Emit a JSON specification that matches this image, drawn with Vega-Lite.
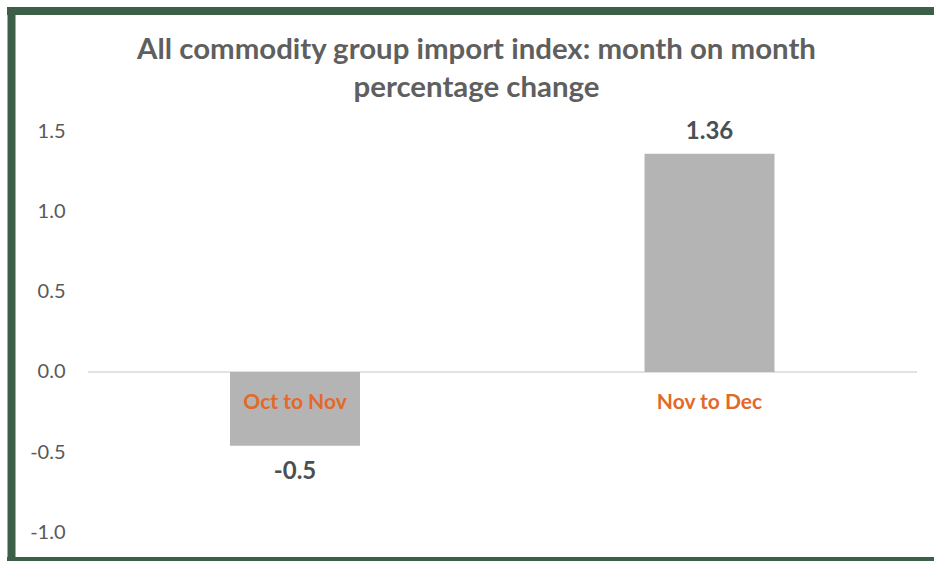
{
  "$schema": "https://vega.github.io/schema/vega-lite/v6.json",
  "autosize": "none",
  "width": 923,
  "height": 550,
  "padding": {"left": 11, "top": 11, "right": 0, "bottom": 0},
  "background": "#ffffff",
  "config": {
    "view": {"stroke": null, "fill": "#ffffff"},
    "font": "Lato"
  },
  "title": {
    "text": ["All commodity group import index: month on month", "percentage change"],
    "font": "Lato",
    "fontSize": 29.4,
    "fontWeight": "bold",
    "color": "#5f5f5f",
    "anchor": "middle",
    "lineHeight": 38,
    "baseline": "top",
    "offset": -98,
    "dx": 4
  },
  "data": {
    "values": [
      {"period": "Oct to Nov", "change": -0.46, "label": "-0.5"},
      {"period": "Nov to Dec", "change": 1.36, "label": "1.36"}
    ]
  },
  "encoding": {
    "x": {
      "field": "period",
      "type": "nominal",
      "sort": null,
      "axis": null,
      "scale": {"paddingInner": 0.6864, "paddingOuter": 0.4566, "align": 0.5786}
    },
    "y": {
      "field": "change",
      "type": "quantitative",
      "scale": {"domain": [-1.1783, 2.2506], "nice": false, "zero": false},
      "axis": {
        "values": [-1, -0.5, 0, 0.5, 1, 1.5],
        "format": ".1f",
        "labelExpr": "replace(datum.label, '\u2212', '-')",
        "grid": false,
        "domain": true,
        "domainColor": "#3d5e47",
        "domainWidth": 8,
        "domainCap": "square",
        "ticks": false,
        "labelPadding": -54,
        "labelAlign": "right",
        "labelFont": "Lato",
        "labelFontSize": 20,
        "labelColor": "#595959",
        "title": null
      }
    }
  },
  "layer": [
    {
      "data": {"values": [{"edge": "top", "v": 2.2506}, {"edge": "bottom", "v": -1.1783}]},
      "mark": {"type": "rule", "color": "#3d5e47", "strokeWidth": 8, "strokeCap": "square"},
      "encoding": {
        "x": null,
        "y": {"field": "v", "type": "quantitative"}
      }
    },
    {
      "data": {"values": [{"from": "Oct to Nov", "to": "Nov to Dec", "v": 0}]},
      "mark": {"type": "rule", "color": "#d9d9d9", "strokeWidth": 1.5},
      "encoding": {
        "x": {"field": "from", "type": "nominal", "sort": null, "bandPosition": -1.0923},
        "x2": {"field": "to", "bandPosition": 2.096},
        "y": {"field": "v", "type": "quantitative"}
      }
    },
    {
      "mark": {"type": "bar", "color": "#b4b4b4"},
      "encoding": {
        "y2": {"datum": 0}
      }
    },
    {
      "transform": [{"filter": "datum.change > 0"}],
      "mark": {"type": "text", "dy": -22, "font": "Lato", "fontSize": 24, "fontWeight": "bold", "color": "#4a4f54"},
      "encoding": {"text": {"field": "label"}}
    },
    {
      "transform": [{"filter": "datum.change < 0"}],
      "mark": {"type": "text", "dy": 26, "font": "Lato", "fontSize": 24, "fontWeight": "bold", "color": "#4a4f54"},
      "encoding": {"text": {"field": "label"}}
    },
    {
      "mark": {"type": "text", "dy": 31, "font": "Lato", "fontSize": 21, "fontWeight": "bold", "color": "#e2692a"},
      "encoding": {
        "y": {"datum": 0},
        "text": {"field": "period"}
      }
    }
  ]
}
